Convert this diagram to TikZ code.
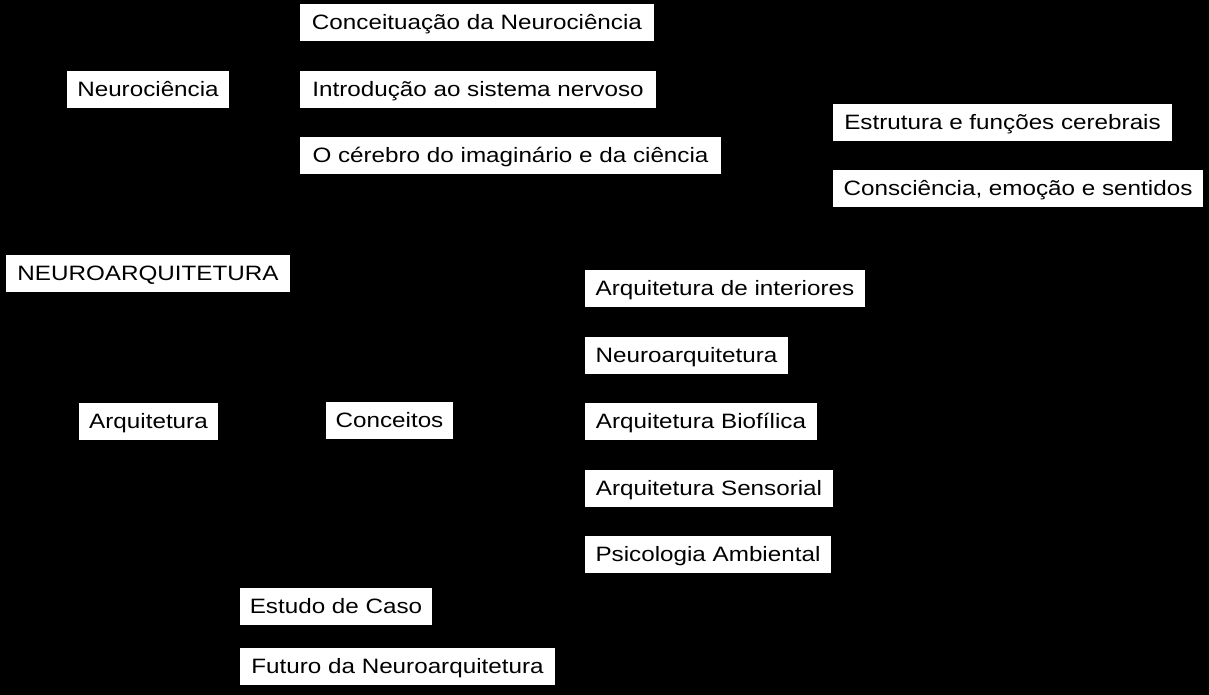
\documentclass[tikz,border=0pt]{standalone}
\usepackage{fontspec}
\setmainfont{Liberation Sans}[FakeStretch=1.165]
\usetikzlibrary{backgrounds}
\tikzset{
  box/.style={fill=white, draw=none, inner sep=0pt, minimum height=37pt,
    text height=14.9pt, text depth=0pt, text=black,
    font=\fontsize{20.8pt}{24pt}\selectfont},
  link/.style={draw=black, line width=1pt}
}
\begin{document}
\begin{tikzpicture}[x=1pt,y=-1pt]
\useasboundingbox (0,0) rectangle (1209,695);
% nodes
\node[box, minimum width=354pt] (c1) at (477,22.5) {Conceituação da Neurociência};
\node[box, minimum width=162pt] (neuro) at (148,89.5) {Neurociência};
\node[box, minimum width=356pt] (c2) at (478,89.5) {Introdução ao sistema nervoso};
\node[box, minimum width=421pt] (c3) at (510.5,155.5) {O cérebro do imaginário e da ciência};
\node[box, minimum width=339pt] (e1) at (1002.5,122.5) {Estrutura e funções cerebrais};
\node[box, minimum width=370pt] (e2) at (1018,188.5) {Consciência, emoção e sentidos};
\node[box, minimum width=284pt] (root) at (148,273.5) {NEUROARQUITETURA};
\node[box, minimum width=280pt] (a1) at (725,288.5) {Arquitetura de interiores};
\node[box, minimum width=203pt] (a2) at (686.5,355.5) {Neuroarquitetura};
\node[box, minimum width=139pt] (arq) at (148.5,421.5) {Arquitetura};
\node[box, minimum width=127pt] (conc) at (389.5,420.5) {Conceitos};
\node[box, minimum width=232pt] (a3) at (701,421.5) {Arquitetura Biofílica};
\node[box, minimum width=248pt] (a4) at (709,488.5) {Arquitetura Sensorial};
\node[box, minimum width=246pt] (a5) at (708,554.5) {Psicologia Ambiental};
\node[box, minimum width=192pt] (est) at (336,606.5) {Estudo de Caso};
\node[box, minimum width=315pt] (fut) at (397.5,666.5) {Futuro da Neuroarquitetura};
\begin{pgfonlayer}{background}
  \fill[black] (0,0) rectangle (1209,695);
  \draw[link] (root) -- (neuro);
  \draw[link] (root) -- (arq);
  \draw[link] (root.south) |- (est.west);
  \draw[link] (root.south) |- (fut.west);
  \draw[link] (neuro.east) -- (c1.west);
  \draw[link] (neuro.east) -- (c2.west);
  \draw[link] (neuro.east) -- (c3.west);
  \draw[link] (c3.east) -- (e1.west);
  \draw[link] (c3.east) -- (e2.west);
  \draw[link] (arq) -- (conc);
  \draw[link] (conc.east) -- (a1.west);
  \draw[link] (conc.east) -- (a2.west);
  \draw[link] (conc.east) -- (a3.west);
  \draw[link] (conc.east) -- (a4.west);
  \draw[link] (conc.east) -- (a5.west);
\end{pgfonlayer}
\end{tikzpicture}
\end{document}
